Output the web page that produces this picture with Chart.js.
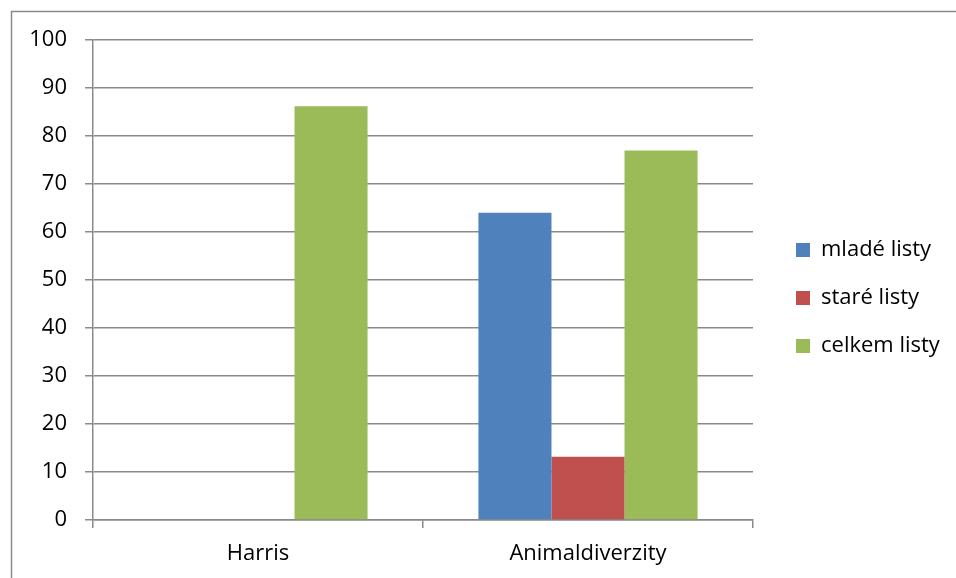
<!DOCTYPE html>
<html>
<head>
<meta charset="utf-8">
<script src="https://cdn.jsdelivr.net/npm/chart.js@4/dist/chart.umd.min.js"></script>
<style>
  html, body { margin: 0; padding: 0; background: #ffffff; }
  #wrap { width: 956px; height: 578px; }
</style>
</head>
<body>
<div id="wrap"><canvas id="chart" width="956" height="578"></canvas></div>
<script>
// Categories and series
const categories = ['Harris', 'Animaldiverzity'];
const mladeListy = [null, 64];
const stareListy = [null, 13.2];
const celkemListy = [86.2, 77];
const seriesNames = ['mladé listy', 'staré listy', 'celkem listy'];
const yTicks = [0, 10, 20, 30, 40, 50, 60, 70, 80, 90, 100];

const FONT = 'Open Sans';
const GRID = '#8a8a8a';

// Outer frame of the chart object (left and top edges)
const framePlugin = {
  id: 'frame',
  beforeDraw(chart) {
    const ctx = chart.ctx;
    ctx.save();
    ctx.strokeStyle = GRID;
    ctx.lineWidth = 1.5;
    ctx.beginPath();
    ctx.moveTo(11.5, 578);
    ctx.lineTo(11.5, 11.5);
    ctx.lineTo(956, 11.5);
    ctx.stroke();
    ctx.restore();
  }
};

// Place the legend in the column to the right of the plot
const legendPlace = {
  id: 'legendPlace',
  afterLayout(chart) {
    const lg = chart.legend;
    if (!lg) return;
    lg.left = 770;
    lg.right = 956;
    lg.top = 18;
    lg.bottom = 578;
  }
};

new Chart(document.getElementById('chart'), {
  type: 'bar',
  data: {
    labels: categories,
    datasets: [
      { label: seriesNames[0], data: mladeListy, backgroundColor: '#4F81BD', borderWidth: 0 },
      { label: seriesNames[1], data: stareListy, backgroundColor: '#C0504D', borderWidth: 0 },
      { label: seriesNames[2], data: celkemListy, backgroundColor: '#9BBB59', borderWidth: 0 }
    ]
  },
  options: {
    responsive: false,
    animation: false,
    devicePixelRatio: 1,
    layout: { padding: { left: 0, top: 40, right: 203, bottom: 0 } },
    datasets: { bar: { categoryPercentage: 0.664, barPercentage: 1.0 } },
    plugins: {
      tooltip: { enabled: false },
      title: { display: false },
      legend: {
        position: 'chartArea',
        align: 'center',
        labels: {
          boxWidth: 14,
          boxHeight: 14,
          padding: 26,
          color: '#000000',
          font: { family: FONT, size: 22 }
        }
      }
    },
    scales: {
      x: {
        offset: true,
        grid: {
          offset: true,
          drawOnChartArea: false,
          drawTicks: true,
          tickLength: 8,
          color: GRID,
          lineWidth: 1.5
        },
        border: { display: true, color: GRID, width: 1.5 },
        ticks: {
          color: '#000000',
          padding: 13,
          font: { family: FONT, size: 22 }
        },
        afterFit(s) { s.height = 58; }
      },
      y: {
        min: 0,
        max: 100,
        afterBuildTicks(s) { s.ticks = yTicks.map(v => ({ value: v })); },
        grid: {
          color: GRID,
          lineWidth: 1.5,
          drawTicks: true,
          tickLength: 8
        },
        border: { display: true, color: GRID, width: 1.5 },
        ticks: {
          color: '#000000',
          padding: 18,
          font: { family: FONT, size: 22 }
        },
        afterFit(s) { s.width = 93; }
      }
    }
  },
  plugins: [framePlugin, legendPlace]
});
</script>
</body>
</html>
